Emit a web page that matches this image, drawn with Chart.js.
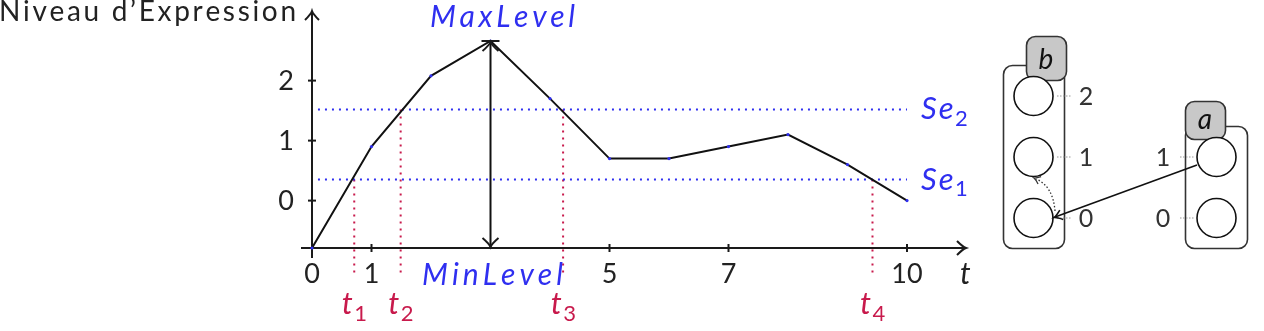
<!DOCTYPE html>
<html>
<head>
<meta charset="utf-8">
<script src="https://cdn.jsdelivr.net/npm/chart.js@4"></script>
<style>
html,body{margin:0;padding:0;background:#fff;overflow:hidden;}
#c{display:block;}
</style>
</head>
<body>
<canvas id="c" width="1264" height="331"></canvas>
<script>
// ---- data ----
const tValues = [0, 1, 2, 3, 4, 5, 6, 7, 8, 9, 10];
const expression = [-0.79, 0.9, 2.08, 2.66, 1.7, 0.7, 0.7, 0.9, 1.1, 0.6, 0.0];
const xTickValues = [0, 1, 5, 7, 10];
const xTickMarks = [1, 5, 7, 10];
const yTickValues = [0, 1, 2];
const thresholdValues = [0.35, 1.52];
const thresholdLabels = ['1', '2'];           // Se1, Se2
const crossingTimes = [0.71, 1.49, 4.22, 9.42];
const crossingLevels = [0.35, 1.52, 1.52, 0.35];
const crossingLabels = ['1', '2', '3', '4'];  // t1..t4
const peakTime = 3;
const maxLevel = 2.66;
const minLevel = -0.79;
const crossingBottom = -1.22;
const thresholdStart = 0.1;
const thresholdEnd = 10;

const BLUE = '#2f2ff0';
const RED = '#c81a4c';
const INK = '#1a1a1a';
const FONT = 'Lato, "DejaVu Sans", sans-serif';

function arrowHead(ctx, x, y, ang, len, half) {
  const cx = Math.cos(ang), sx = Math.sin(ang);
  const bx = x - cx * len, by = y - sx * len;
  const px = -sx, py = cx;
  ctx.beginPath();
  ctx.moveTo(bx + px * half, by + py * half);
  ctx.quadraticCurveTo(x - cx * len * 0.35 + px * half * 0.15, y - sx * len * 0.35 + py * half * 0.15, x, y);
  ctx.quadraticCurveTo(x - cx * len * 0.35 - px * half * 0.15, y - sx * len * 0.35 - py * half * 0.15, bx - px * half, by - py * half);
  ctx.stroke();
}

function spacedWidth(ctx, text, spacing) {
  let w = 0;
  for (const ch of text) w += ctx.measureText(ch).width + spacing;
  return w - spacing;
}
function drawSpaced(ctx, text, x, y, spacing) {
  let cx = x;
  for (const ch of text) { ctx.fillText(ch, cx, y); cx += ctx.measureText(ch).width + spacing; }
  return cx - spacing;
}
// math text: italic main part (stretched to a target width, or fixed spacing), upright subscript
function drawMath(ctx, main, sub, x, y, size, target, color, align, fixedSpacing) {
  ctx.save();
  ctx.fillStyle = color;
  ctx.textBaseline = 'alphabetic';
  const subFont = Math.round(size * 0.7) + 'px ' + FONT;
  ctx.font = subFont;
  const sw = sub ? ctx.measureText(sub).width + 1 : 0;
  ctx.font = 'italic ' + size + 'px ' + FONT;
  const raw = spacedWidth(ctx, main, 0);
  let spacing = fixedSpacing || 0;
  if (target && main.length > 1) spacing = (target - sw - raw) / (main.length - 1);
  const total = raw + spacing * (main.length - 1) + sw;
  const sx = align === 'center' ? x - total / 2 : x;
  const end = drawSpaced(ctx, main, sx, y, spacing);
  if (sub) {
    ctx.font = subFont;
    ctx.fillText(sub, end + 1.5, y + size * 0.22);
  }
  ctx.restore();
}
function roundRect(ctx, x, y, w, h, r, fill, stroke) {
  ctx.beginPath();
  ctx.moveTo(x + r, y);
  ctx.arcTo(x + w, y, x + w, y + h, r);
  ctx.arcTo(x + w, y + h, x, y + h, r);
  ctx.arcTo(x, y + h, x, y, r);
  ctx.arcTo(x, y, x + w, y, r);
  ctx.closePath();
  if (fill) { ctx.fillStyle = fill; ctx.fill(); }
  if (stroke) { ctx.strokeStyle = stroke; ctx.stroke(); }
}

const axesPlugin = {
  id: 'axesPlugin',
  beforeDatasetsDraw(chart) {
    const ctx = chart.ctx, xs = chart.scales.x, ys = chart.scales.y;
    const x0 = xs.getPixelForValue(0), y0 = ys.getPixelForValue(minLevel);
    ctx.save();
    ctx.strokeStyle = INK; ctx.lineWidth = 2; ctx.lineCap = 'butt';
    ctx.beginPath(); ctx.moveTo(x0 - 11, y0); ctx.lineTo(965, y0); ctx.stroke();
    arrowHead(ctx, 966, y0, 0, 9, 7);
    ctx.beginPath(); ctx.moveTo(x0, y0 + 10); ctx.lineTo(x0, 12); ctx.stroke();
    arrowHead(ctx, x0, 11, -Math.PI / 2, 9, 7);
    for (const v of yTickValues) {
      const p = ys.getPixelForValue(v);
      ctx.beginPath(); ctx.moveTo(x0 - 4, p); ctx.lineTo(x0 + 4, p); ctx.stroke();
    }
    for (const v of xTickMarks) {
      const p = xs.getPixelForValue(v);
      ctx.beginPath(); ctx.moveTo(p, y0 - 4); ctx.lineTo(p, y0 + 4); ctx.stroke();
    }
    ctx.restore();
  },
  afterDatasetsDraw(chart) {
    const ctx = chart.ctx, xs = chart.scales.x, ys = chart.scales.y;
    ctx.save();
    const px = xs.getPixelForValue(peakTime);
    const top = ys.getPixelForValue(maxLevel), bot = ys.getPixelForValue(minLevel);
    ctx.strokeStyle = INK; ctx.lineWidth = 2;
    ctx.beginPath(); ctx.moveTo(px - 9, top); ctx.lineTo(px + 9, top); ctx.stroke();
    ctx.beginPath(); ctx.moveTo(px - 9, bot); ctx.lineTo(px + 9, bot); ctx.stroke();
    arrowHead(ctx, px, top + 1, -Math.PI / 2, 9, 8);
    arrowHead(ctx, px, bot - 1, Math.PI / 2, 9, 8);

    // tick labels
    ctx.fillStyle = '#222';
    ctx.font = '27px ' + FONT;
    ctx.textAlign = 'right'; ctx.textBaseline = 'middle';
    for (const v of yTickValues) ctx.fillText(String(v), 294, ys.getPixelForValue(v) + 1);
    ctx.textAlign = 'center';
    for (const v of xTickValues) ctx.fillText(String(v), xs.getPixelForValue(v), 274);

    // axis title (stretched to reference width)
    ctx.textAlign = 'left'; ctx.textBaseline = 'alphabetic';
    ctx.font = '28px ' + FONT;
    const title = 'Niveau d\u2019Expression';
    const tw = spacedWidth(ctx, title, 0);
    drawSpaced(ctx, title, -1, 21, (297 - tw) / (title.length - 1));
    drawMath(ctx, 't', '', 960, 284, 30, 0, '#222', 'left');

    drawMath(ctx, 'MaxLevel', '', px + 12, 27, 30, 145, BLUE, 'center');
    drawMath(ctx, 'MinLevel', '', px + 2, 285, 30, 141, BLUE, 'center');

    thresholdValues.forEach((v, i) => {
      drawMath(ctx, 'Se', thresholdLabels[i], 921, ys.getPixelForValue(v) + 10, 31, 0, BLUE, 'left', 2);
    });
    crossingTimes.forEach((t, i) => {
      drawMath(ctx, 't', crossingLabels[i], xs.getPixelForValue(t), 314, 31, 0, RED, 'center');
    });
    ctx.restore();
  },
  afterDraw(chart) {
    const ctx = chart.ctx;
    ctx.save();
    ctx.lineWidth = 1.6;
    roundRect(ctx, 1003.5, 65.5, 61, 183, 9, '#fff', '#333');
    roundRect(ctx, 1026.5, 36.5, 40, 44, 9, '#c8c8c8', '#333');
    roundRect(ctx, 1185.5, 126.5, 62, 122, 9, '#fff', '#333');
    roundRect(ctx, 1185.5, 101.5, 40, 38, 9, '#c8c8c8', '#333');
    const circles = [[1033.5, 96], [1033.5, 157], [1033.5, 218], [1216.5, 157], [1216.5, 218]];
    for (const [cx, cy] of circles) {
      ctx.beginPath(); ctx.arc(cx, cy, 19.5, 0, Math.PI * 2);
      ctx.fillStyle = '#fff'; ctx.fill(); ctx.strokeStyle = '#111'; ctx.stroke();
    }
    ctx.strokeStyle = '#999'; ctx.lineWidth = 1.2; ctx.setLineDash([1.5, 1.5]);
    for (const cy of [96, 157, 218]) { ctx.beginPath(); ctx.moveTo(1057, cy); ctx.lineTo(1071, cy); ctx.stroke(); }
    for (const cy of [157, 218]) { ctx.beginPath(); ctx.moveTo(1180, cy); ctx.lineTo(1194, cy); ctx.stroke(); }
    ctx.strokeStyle = '#333'; ctx.lineWidth = 1.3; ctx.setLineDash([1.5, 2]);
    ctx.beginPath(); ctx.moveTo(1055, 211); ctx.quadraticCurveTo(1053, 186, 1036, 179); ctx.stroke();
    ctx.setLineDash([]);
    arrowHead(ctx, 1034, 178, Math.atan2(-7, -17), 6, 4);
    ctx.strokeStyle = '#111'; ctx.lineWidth = 1.6;
    ctx.beginPath(); ctx.moveTo(1197, 165); ctx.lineTo(1055, 217); ctx.stroke();
    arrowHead(ctx, 1054, 217.5, Math.atan2(52, -142), 8, 5);
    ctx.fillStyle = '#333'; ctx.font = '25px ' + FONT;
    ctx.textAlign = 'center'; ctx.textBaseline = 'middle';
    ctx.fillText('2', 1086, 97); ctx.fillText('1', 1086, 158); ctx.fillText('0', 1086, 219);
    ctx.fillText('1', 1163, 158); ctx.fillText('0', 1163, 219);
    ctx.fillStyle = '#111'; ctx.font = 'italic 28px ' + FONT;
    ctx.fillText('b', 1046, 60); ctx.fillText('a', 1205, 120);
    ctx.restore();
  }
};

const mainLine = tValues.map((t, i) => ({ x: t, y: expression[i] }));
const datasets = [{
  data: mainLine, showLine: true, borderColor: '#111', borderWidth: 2,
  pointRadius: 1.6, pointBackgroundColor: BLUE, pointBorderWidth: 0, order: 0, tension: 0
}];
thresholdValues.forEach(v => datasets.push({
  data: [{ x: thresholdStart, y: v }, { x: thresholdEnd, y: v }], showLine: true,
  borderColor: BLUE, borderWidth: 2, borderDash: [2, 5], pointRadius: 0, order: 2
}));
crossingTimes.forEach((t, i) => datasets.push({
  data: [{ x: t, y: crossingLevels[i] }, { x: t, y: crossingBottom }], showLine: true,
  borderColor: RED, borderWidth: 2, borderDash: [2, 5], pointRadius: 0, order: 2
}));
datasets.push({
  data: [{ x: peakTime, y: minLevel }, { x: peakTime, y: maxLevel }], showLine: true,
  borderColor: '#111', borderWidth: 2, pointRadius: 0, order: 1
});

new Chart(document.getElementById('c'), {
  type: 'scatter',
  data: { datasets },
  options: {
    responsive: false, animation: false, devicePixelRatio: 1,
    clip: false,
    layout: { padding: { left: 312, right: 357, top: 38, bottom: 83 } },
    scales: {
      x: { type: 'linear', min: 0, max: 10, display: false },
      y: { type: 'linear', min: -0.79, max: 2.71, display: false }
    },
    plugins: { legend: { display: false }, tooltip: { enabled: false } },
    datasets: { scatter: { clip: false } }
  },
  plugins: [axesPlugin]
});
</script>
</body>
</html>
